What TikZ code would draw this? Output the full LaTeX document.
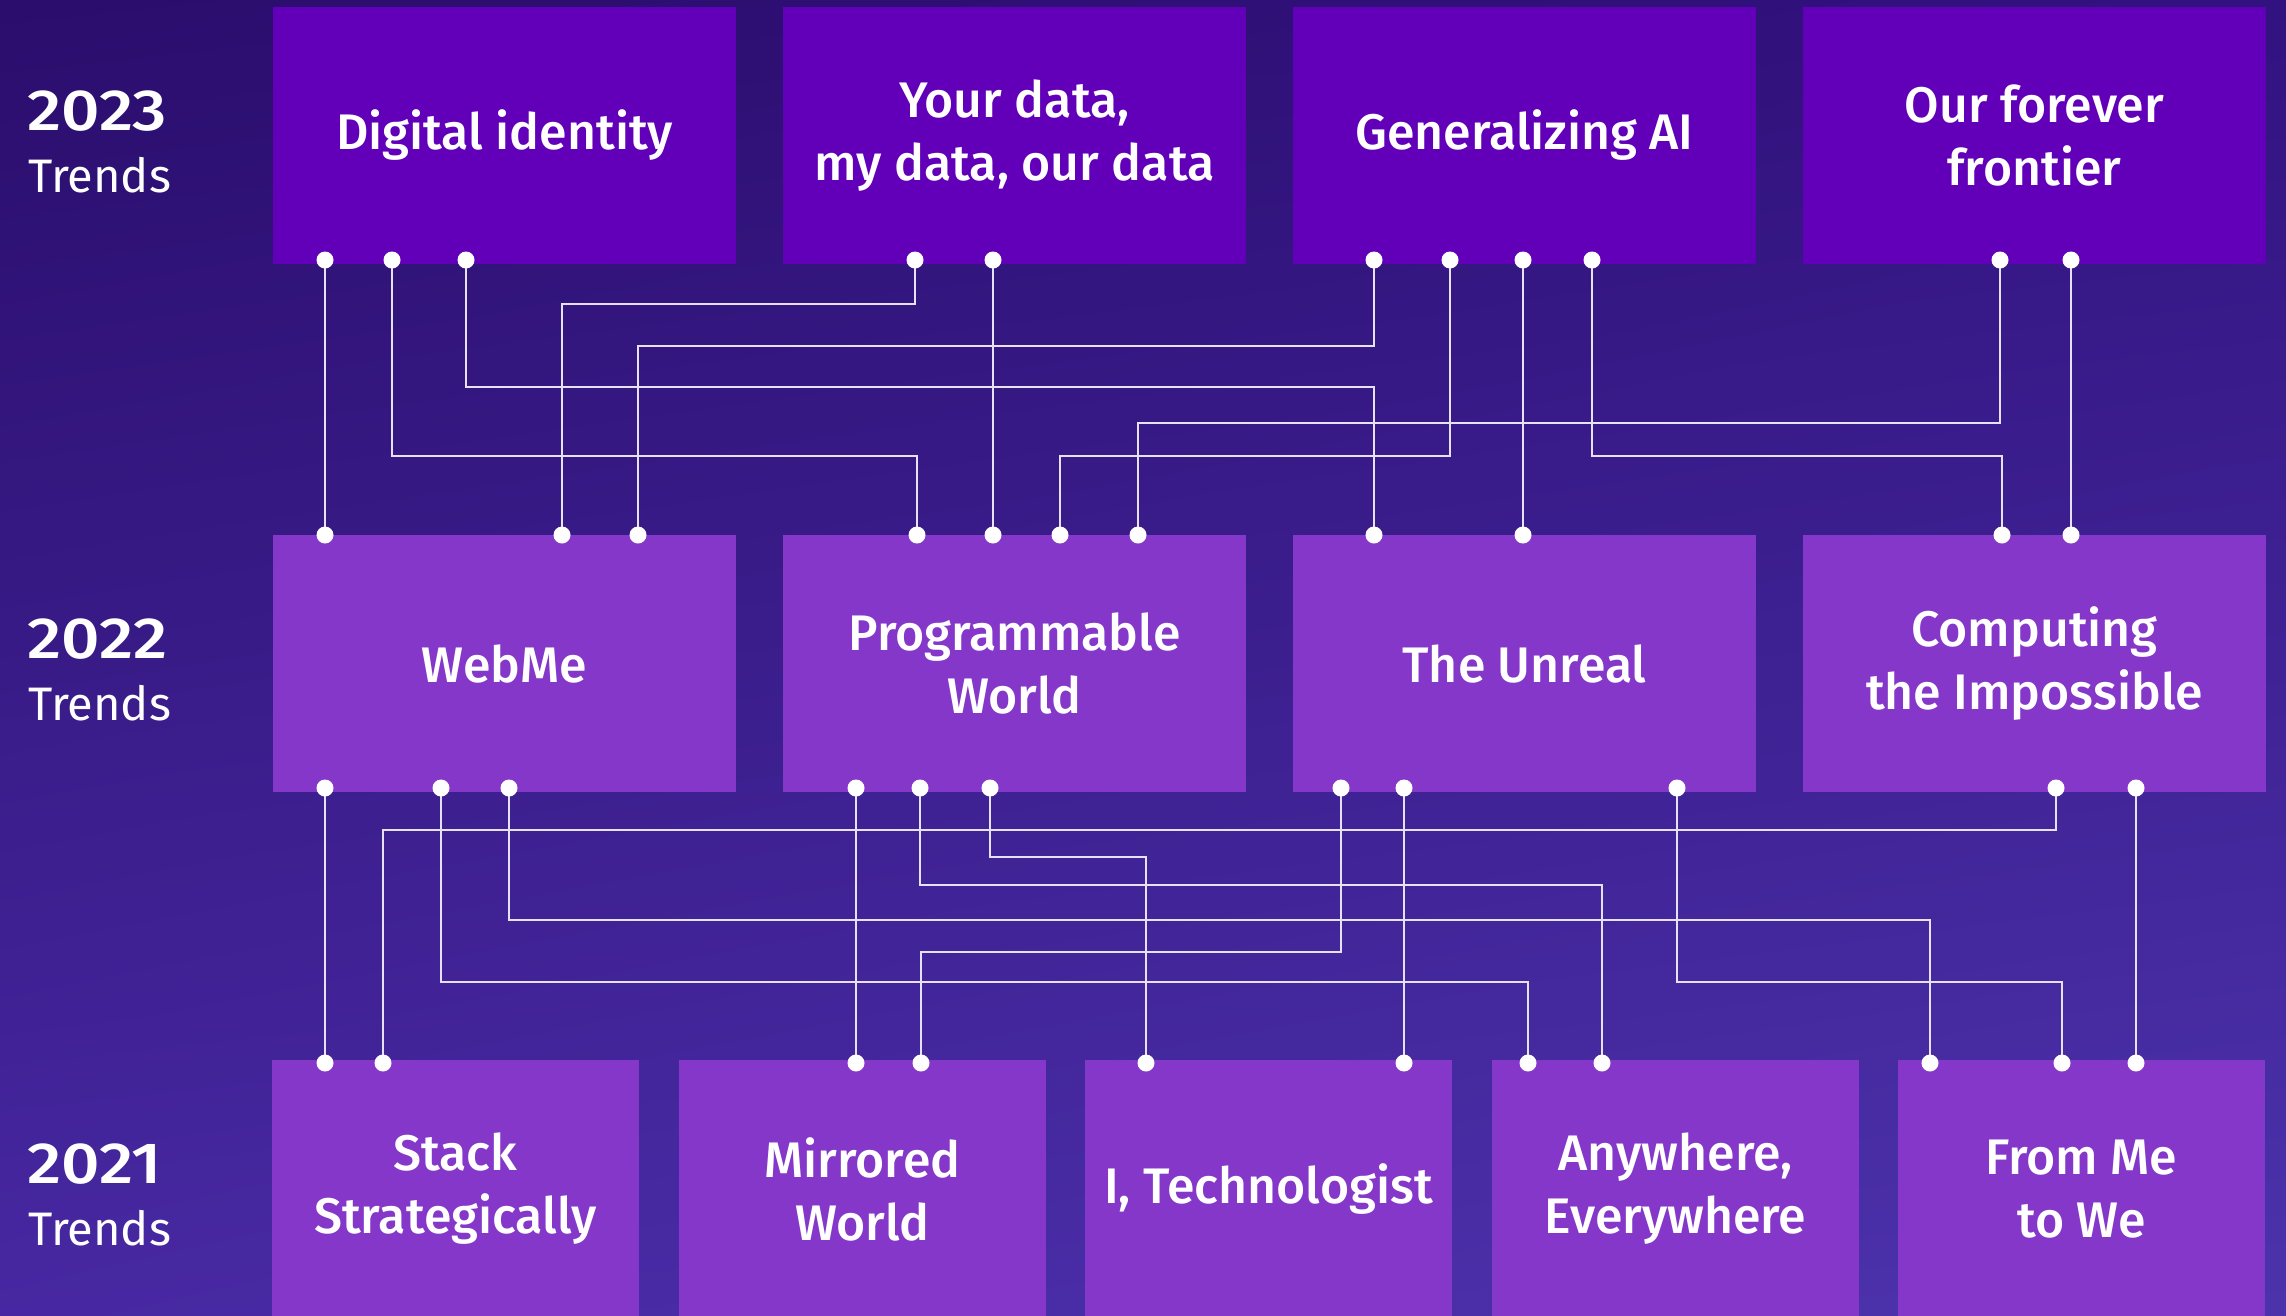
\documentclass[tikz,border=0pt]{standalone}
\usepackage{fontspec}
\setmainfont{Fira Sans}[BoldFont={Fira Sans Medium}]
\usetikzlibrary{calc,shadings}
\pgfdeclarelayer{bg}
\pgfdeclarelayer{lines}
\pgfsetlayers{bg,lines,main}
\definecolor{bgul}{HTML}{2A0D6C}
\definecolor{bgur}{HTML}{32127F}
\definecolor{bgll}{HTML}{4728A2}
\definecolor{bglr}{HTML}{4C33AC}
\definecolor{topc}{HTML}{6200B9}
\definecolor{lowc}{HTML}{8537C9}
\definecolor{linec}{HTML}{E6E1F4}
\newcommand\bxfont{\fontsize{50}{63}\selectfont\bfseries}
\newcommand\yrfont{\fontsize{58}{58}\selectfont\bfseries}
\newcommand\trfont{\fontsize{47}{47}\selectfont}
\newcommand\yr[1]{\scalebox{1.16}[1]{#1}}
\tikzset{
  bigbox/.style={fill=#1, minimum width=463pt, minimum height=257pt, inner sep=0pt, outer sep=0pt,
    anchor=north west, text=white, align=center, font=\bxfont},
  smallbox/.style={fill=lowc, minimum width=367pt, minimum height=258pt, inner sep=0pt, outer sep=0pt,
    anchor=north west, text=white, align=center, font=\bxfont},
  dot/.style={circle, fill=white, minimum size=17pt, inner sep=0pt},
  conn/.style={draw=linec, line width=2pt},
  yearnum/.style={text=white, font=\yrfont, anchor=base west, inner sep=0pt},
  yeartxt/.style={text=white, font=\trfont, anchor=base west, inner sep=0pt},
}
\begin{document}
\begin{tikzpicture}[x=1pt,y=-1pt]
\useasboundingbox (0,0) rectangle (2286,1315);
\begin{pgfonlayer}{bg}
\shade[upper left=bgul, upper right=bgur, lower left=bgll, lower right=bglr] (0,0) rectangle (2286,1315);
\end{pgfonlayer}

% year labels
\node[yearnum] (y23) at (27,130) {\yr{2023}};
\node[yeartxt] (r23) at (28,192) {Trends};
\node[yearnum] (y22) at (27,658) {\yr{2022}};
\node[yeartxt] (r22) at (28,720) {Trends};
\node[yearnum] (y21) at (27,1183) {\yr{2021}};
\node[yeartxt] (r21) at (28,1245) {Trends};

% 2023 row
\node[bigbox=topc] (di) at (273,7) {Digital identity};
\node[bigbox=topc] (yd) at (783,7) {Your data,\\my data, our data};
\node[bigbox=topc] (ga) at (1293,7) {Generalizing AI};
\node[bigbox=topc] (of) at (1803,7) {Our forever\\frontier};

% 2022 row
\node[bigbox=lowc] (wm) at (273,535) {WebMe};
\node[bigbox=lowc] (pw) at (783,535) {Programmable\\World};
\node[bigbox=lowc] (tu) at (1293,535) {The Unreal};
\node[bigbox=lowc] (ci) at (1803,535) {Computing\\the Impossible};

% 2021 row
\node[smallbox] (ss) at (272,1060) {Stack\\Strategically};
\node[smallbox] (mw) at (679,1060) {Mirrored\\World};
\node[smallbox] (it) at (1085,1060) {I, Technologist};
\node[smallbox] (ae) at (1492,1060) {Anywhere,\\Everywhere};
\node[smallbox] (fm) at (1898,1060) {From Me\\to We};

% level coordinates
\coordinate (L304) at (0,304);
\coordinate (L346) at (0,346);
\coordinate (L387) at (0,387);
\coordinate (L423) at (0,423);
\coordinate (L456) at (0,456);
\coordinate (L830) at (0,830);
\coordinate (L857) at (0,857);
\coordinate (L885) at (0,885);
\coordinate (L920) at (0,920);
\coordinate (L952) at (0,952);
\coordinate (L982) at (0,982);

% top row bottom dots
\node[dot] (ta1) at (325,260) {};
\node[dot] (ta2) at (392,260) {};
\node[dot] (ta3) at (466,260) {};
\node[dot] (tb1) at (915,260) {};
\node[dot] (tb2) at (993,260) {};
\node[dot] (tc1) at (1374,260) {};
\node[dot] (tc2) at (1450,260) {};
\node[dot] (tc3) at (1523,260) {};
\node[dot] (tc4) at (1592,260) {};
\node[dot] (td1) at (2000,260) {};
\node[dot] (td2) at (2071,260) {};

% middle row top dots
\node[dot] (ma1) at (325,535) {};
\node[dot] (ma2) at (562,535) {};
\node[dot] (ma3) at (638,535) {};
\node[dot] (mb1) at (917,535) {};
\node[dot] (mb2) at (993,535) {};
\node[dot] (mb3) at (1060,535) {};
\node[dot] (mb4) at (1138,535) {};
\node[dot] (mc1) at (1374,535) {};
\node[dot] (mc2) at (1523,535) {};
\node[dot] (md1) at (2002,535) {};
\node[dot] (md2) at (2071,535) {};

% middle row bottom dots
\node[dot] (nA1) at (325,788) {};
\node[dot] (nA2) at (441,788) {};
\node[dot] (nA3) at (509,788) {};
\node[dot] (nB1) at (856,788) {};
\node[dot] (nB2) at (920,788) {};
\node[dot] (nB3) at (990,788) {};
\node[dot] (nC1) at (1341,788) {};
\node[dot] (nC2) at (1404,788) {};
\node[dot] (nC3) at (1677,788) {};
\node[dot] (nD1) at (2056,788) {};
\node[dot] (nD2) at (2136,788) {};

% bottom row top dots
\node[dot] (b11) at (325,1063) {};
\node[dot] (b12) at (383,1063) {};
\node[dot] (b21) at (856,1063) {};
\node[dot] (b22) at (921,1063) {};
\node[dot] (b31) at (1146,1063) {};
\node[dot] (b32) at (1404,1063) {};
\node[dot] (b41) at (1528,1063) {};
\node[dot] (b42) at (1602,1063) {};
\node[dot] (b51) at (1930,1063) {};
\node[dot] (b52) at (2062,1063) {};
\node[dot] (b53) at (2136,1063) {};

\begin{pgfonlayer}{lines}
% 2023 -> 2022
\draw[conn] (ta1.center) -- (ma1.center);
\draw[conn] (ta2.center) -- (ta2.center |- L456) -| (mb1.center);
\draw[conn] (ta3.center) -- (ta3.center |- L387) -| (mc1.center);
\draw[conn] (tb1.center) -- (tb1.center |- L304) -| (ma2.center);
\draw[conn] (tb2.center) -- (mb2.center);
\draw[conn] (tc1.center) -- (tc1.center |- L346) -| (ma3.center);
\draw[conn] (tc2.center) -- (tc2.center |- L456) -| (mb3.center);
\draw[conn] (tc3.center) -- (mc2.center);
\draw[conn] (tc4.center) -- (tc4.center |- L456) -| (md1.center);
\draw[conn] (td1.center) -- (td1.center |- L423) -| (mb4.center);
\draw[conn] (td2.center) -- (md2.center);
% 2022 -> 2021
\draw[conn] (nA1.center) -- (b11.center);
\draw[conn] (nD1.center) -- (nD1.center |- L830) -| (b12.center);
\draw[conn] (nA2.center) -- (nA2.center |- L982) -| (b41.center);
\draw[conn] (nA3.center) -- (nA3.center |- L920) -| (b51.center);
\draw[conn] (nB1.center) -- (b21.center);
\draw[conn] (nB2.center) -- (nB2.center |- L885) -| (b42.center);
\draw[conn] (nB3.center) -- (nB3.center |- L857) -| (b31.center);
\draw[conn] (nC1.center) -- (nC1.center |- L952) -| (b22.center);
\draw[conn] (nC2.center) -- (b32.center);
\draw[conn] (nC3.center) -- (nC3.center |- L982) -| (b52.center);
\draw[conn] (nD2.center) -- (b53.center);
\end{pgfonlayer}
\end{tikzpicture}
\end{document}
